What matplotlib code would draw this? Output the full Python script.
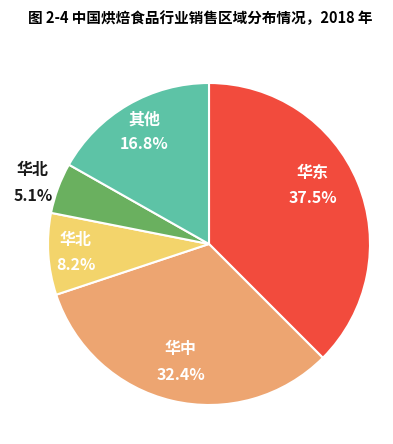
import matplotlib.pyplot as plt

plt.rcParams['font.family'] = ['Noto Sans CJK SC', 'DejaVu Sans']

regions = ['华东', '华中', '华北', '华北', '其他']
shares = [37.5, 32.4, 8.2, 5.1, 16.8]

colors = ['#F24B3D', '#EDA571', '#F3D46B', '#6AB05F', '#5DC3A6']
# label centres in pie radius units
label_xy = [(0.646, 0.366), (-0.174, -0.733), (-0.826, -0.05), (-1.093, 0.379), (-0.404, 0.696)]
label_c = ['white', 'white', 'white', '#1a1a1a', 'white']

fig = plt.figure(figsize=(3.93, 4.44), dpi=100)
ax = fig.add_axes([48 / 393, 39 / 444, 322 / 393, 322 / 444])

wedges, _ = ax.pie(shares, colors=colors, startangle=90, counterclock=False,
                   radius=1, wedgeprops=dict(edgecolor='white', linewidth=1.5))

for name, val, (x, y), c in zip(regions, shares, label_xy, label_c):
    ax.text(x, y, f'{name}\n{val}%', ha='center', va='center', color=c,
            fontsize=11.5, fontweight='bold', linespacing=1.7)

ax.set_xlim(-1, 1)
ax.set_ylim(-1, 1)
ax.set_aspect('equal')
ax.axis('off')

fig.text(0.51, 0.959, '图 2-4 中国烘焙食品行业销售区域分布情况，2018 年',
         ha='center', va='center', fontsize=10.5, fontweight='bold')

fig.savefig('out.png', dpi=100)
